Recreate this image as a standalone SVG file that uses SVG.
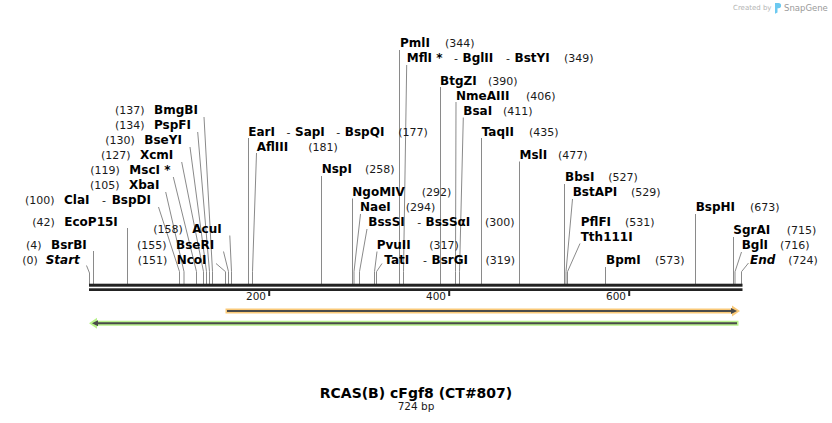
<svg xmlns="http://www.w3.org/2000/svg" width="832" height="423" viewBox="0 0 832 423">
<style>
text{font-family:"DejaVu Sans",Verdana,sans-serif}
.n{font-weight:bold;font-size:12px;fill:#000}
.i{font-weight:bold;font-style:italic;font-size:12px;fill:#000}
.p{font-size:11px;fill:#1a1a1a}
.e{font-size:11px;fill:#1a1a1a;text-anchor:end}
.s{fill:none;stroke:#8a8a8a;stroke-width:1}
.bb{fill:#222}
.t{font-size:10.5px;fill:#1a1a1a;text-anchor:end}
</style>
<rect width="832" height="423" fill="#fff"/>
<g id="logo">
<text x="733" y="10" font-size="7" fill="#b4b4b4">Created by</text>
<path d="M775,3 h3.5 a2.6,2.6 0 0 1 0,5.2 h-1 v4.3 l-2.5,1.2 z" fill="#6cc9f0"/>
<text x="784" y="11" font-size="8.5" fill="#9a9a9a">SnapGene</text>
</g>
<g id="connectors" class="s">
<polyline points="86.5,265.5 89.5,273 89.5,284"/>
<polyline points="93.5,251 93.5,284"/>
<polyline points="127.5,228 127.5,284"/>
<polyline points="158.5,207 179.5,271.7 179.5,284"/>
<polyline points="165.7,192 184,271.7 184,284"/>
<polyline points="173.3,177 196.5,271.7 196.5,284"/>
<polyline points="181.7,162 203.5,271.7 203.5,284"/>
<polyline points="190,147 206.5,271.7 206.5,284"/>
<polyline points="197.7,132 209.5,271.7 209.5,284"/>
<polyline points="204,117 212.5,271.7 212.5,284"/>
<polyline points="216,263.5 225.5,271.7 225.5,284"/>
<polyline points="223.5,251.5 228.5,271.7 228.5,284"/>
<polyline points="229.8,235.5 231.5,271.7 231.5,284"/>
<polyline points="248.5,138 248.5,284"/>
<polyline points="256.5,153 252.5,271.7 252.5,284"/>
<polyline points="321.5,176 321.5,284"/>
<polyline points="352.5,198.5 352.5,284"/>
<polyline points="360.5,214 354,271.7 354,284"/>
<polyline points="367,229 359.5,271.7 359.5,284"/>
<polyline points="377,251.5 374.5,271.7 374.5,284"/>
<polyline points="382,263.5 376.5,271.7 376.5,284"/>
<polyline points="399.5,50 399.5,284"/>
<polyline points="406.7,65 403.5,271.7 403.5,284"/>
<polyline points="440.5,87 440.5,284"/>
<polyline points="456,102 455.5,271.7 455.5,284"/>
<polyline points="463.3,117.5 459.5,271.7 459.5,284"/>
<polyline points="481.5,138 481.5,284"/>
<polyline points="519.5,161.5 519.5,284"/>
<polyline points="564.5,184 564.5,284"/>
<polyline points="572.5,199 566,271.7 566,284"/>
<polyline points="580,243.5 567.5,271.7 567.5,284"/>
<polyline points="605.5,267 605.5,284"/>
<polyline points="695.5,214 695.5,284"/>
<polyline points="733.5,237 733.5,284"/>
<polyline points="741.5,252 735,271.7 735,284"/>
<polyline points="748.5,263 741.5,271.7 741.5,284"/>
</g>
<g id="backbone">
<rect class="bb" x="89" y="283.7" width="653.5" height="3"/>
<rect class="bb" x="89" y="288.3" width="653.5" height="2.7"/>
<rect class="bb" x="268.2" y="291" width="2" height="5"/>
<rect class="bb" x="448.2" y="291" width="2" height="5"/>
<rect class="bb" x="628.2" y="291" width="2" height="5"/>
<text class="t" x="266" y="300">200</text>
<text class="t" x="446" y="300">400</text>
<text class="t" x="626" y="300">600</text>
</g>
<g id="feature-orange">
<path d="M225.5,308.5 H732 V305.5 L740,311 L732,316.5 V313.5 H225.5 Z" fill="#fac978"/>
<line x1="227" y1="311" x2="733" y2="311" stroke="#4a4a4a" stroke-width="2"/>
<polygon points="731,308 737,311 731,314" fill="#4a4a4a"/>
</g>
<g id="feature-green">
<path d="M738.5,320.8 H97 V317.8 L89,323.3 L97,328.8 V325.8 H738.5 Z" fill="#b9f28c"/>
<line x1="95" y1="323.3" x2="737" y2="323.3" stroke="#4a4a4a" stroke-width="2"/>
<polygon points="92,323.3 98,320.3 98,326.3" fill="#4a4a4a"/>
</g>
<g id="site-BmgBI"><text class="e" x="144.6" y="114">(137)</text><text class="n" x="154" y="114">BmgBI</text></g>
<g id="site-PspFI"><text class="e" x="144.6" y="129">(134)</text><text class="n" x="154" y="129">PspFI</text></g>
<g id="site-BseYI"><text class="e" x="134.9" y="144">(130)</text><text class="n" x="144.3" y="144">BseYI</text></g>
<g id="site-XcmI"><text class="e" x="130.6" y="159">(127)</text><text class="n" x="140" y="159">XcmI</text></g>
<g id="site-MscI"><text class="e" x="119.9" y="174">(119)</text><text class="n" x="129.3" y="174">MscI *</text></g>
<g id="site-XbaI"><text class="e" x="119.6" y="189">(105)</text><text class="n" x="129" y="189">XbaI</text></g>
<g id="site-ClaI"><text class="e" x="54.6" y="204">(100)</text><text class="n" x="64" y="204">ClaI</text><text class="p" x="102" y="204">-</text><text class="n" x="111.7" y="204">BspDI</text></g>
<g id="site-EcoP15I"><text class="e" x="54.9" y="226">(42)</text><text class="n" x="64.3" y="226">EcoP15I</text></g>
<g id="site-BsrBI"><text class="e" x="41.6" y="249">(4)</text><text class="n" x="51" y="249">BsrBI</text></g>
<g id="site-Start"><text class="e" x="37.9" y="264">(0)</text><text class="i" x="45.7" y="264">Start</text></g>
<g id="site-AcuI"><text class="e" x="182.9" y="233">(158)</text><text class="n" x="192.3" y="233">AcuI</text></g>
<g id="site-BseRI"><text class="e" x="166.6" y="248.5">(155)</text><text class="n" x="176" y="248.5">BseRI</text></g>
<g id="site-NcoI"><text class="e" x="167.3" y="264">(151)</text><text class="n" x="176.7" y="264">NcoI</text></g>
<g id="site-EarI"><text class="n" x="248.3" y="135.5">EarI</text><text class="p" x="286.5" y="135.5">-</text><text class="n" x="295" y="135.5">SapI</text><text class="p" x="336.3" y="135.5">-</text><text class="n" x="344.8" y="135.5">BspQI</text><text class="p" x="398.3" y="135.5">(177)</text></g>
<g id="site-AflIII"><text class="n" x="256.7" y="150.5">AflIII</text><text class="p" x="308.3" y="150.5">(181)</text></g>
<g id="site-NspI"><text class="n" x="321.7" y="173.3">NspI</text><text class="p" x="365" y="173.3">(258)</text></g>
<g id="site-NgoMIV"><text class="n" x="352.3" y="195.7">NgoMIV</text><text class="p" x="421.7" y="195.7">(292)</text></g>
<g id="site-NaeI"><text class="n" x="360" y="211">NaeI</text><text class="p" x="405.7" y="211">(294)</text></g>
<g id="site-BssSI"><text class="n" x="368.3" y="226">BssSI</text><text class="p" x="417.3" y="226">-</text><text class="n" x="425.5" y="226">BssSαI</text><text class="p" x="485" y="226">(300)</text></g>
<g id="site-PvuII"><text class="n" x="376.7" y="248.5">PvuII</text><text class="p" x="429.3" y="248.5">(317)</text></g>
<g id="site-TatI"><text class="n" x="384.3" y="263.5">TatI</text><text class="p" x="423" y="263.5">-</text><text class="n" x="431.5" y="263.5">BsrGI</text><text class="p" x="485.5" y="263.5">(319)</text></g>
<g id="site-PmlI"><text class="n" x="400" y="47">PmlI</text><text class="p" x="445" y="47">(344)</text></g>
<g id="site-MflI"><text class="n" x="406.7" y="62">MflI *</text><text class="p" x="454" y="62">-</text><text class="n" x="462.5" y="62">BglII</text><text class="p" x="506" y="62">-</text><text class="n" x="514.5" y="62">BstYI</text><text class="p" x="564" y="62">(349)</text></g>
<g id="site-BtgZI"><text class="n" x="440" y="84.5">BtgZI</text><text class="p" x="488" y="84.5">(390)</text></g>
<g id="site-NmeAIII"><text class="n" x="456" y="99.5">NmeAIII</text><text class="p" x="526" y="99.5">(406)</text></g>
<g id="site-BsaI"><text class="n" x="463.3" y="115">BsaI</text><text class="p" x="503" y="115">(411)</text></g>
<g id="site-TaqII"><text class="n" x="481.7" y="135.5">TaqII</text><text class="p" x="529" y="135.5">(435)</text></g>
<g id="site-MslI"><text class="n" x="519.5" y="159">MslI</text><text class="p" x="558" y="159">(477)</text></g>
<g id="site-BbsI"><text class="n" x="565" y="181">BbsI</text><text class="p" x="608.3" y="181">(527)</text></g>
<g id="site-BstAPI"><text class="n" x="572.7" y="196">BstAPI</text><text class="p" x="631" y="196">(529)</text></g>
<g id="site-PflFI"><text class="n" x="580.7" y="226">PflFI</text><text class="p" x="625" y="226">(531)</text><text class="n" x="580.7" y="241">Tth111I</text></g>
<g id="site-BpmI"><text class="n" x="606" y="264">BpmI</text><text class="p" x="655" y="264">(573)</text></g>
<g id="site-BspHI"><text class="n" x="695.7" y="211">BspHI</text><text class="p" x="750" y="211">(673)</text></g>
<g id="site-SgrAI"><text class="n" x="733.3" y="234">SgrAI</text><text class="p" x="786.7" y="234">(715)</text></g>
<g id="site-BglI"><text class="n" x="741.7" y="249">BglI</text><text class="p" x="780" y="249">(716)</text></g>
<g id="site-End"><text class="i" x="750" y="264">End</text><text class="p" x="788.3" y="264">(724)</text></g>
<g id="title">
<text x="416" y="397.5" text-anchor="middle" font-size="14" font-weight="bold" fill="#000">RCAS(B) cFgf8 (CT#807)</text>
<text x="416" y="410" text-anchor="middle" font-size="10.5" fill="#1a1a1a">724 bp</text>
</g>
</svg>
